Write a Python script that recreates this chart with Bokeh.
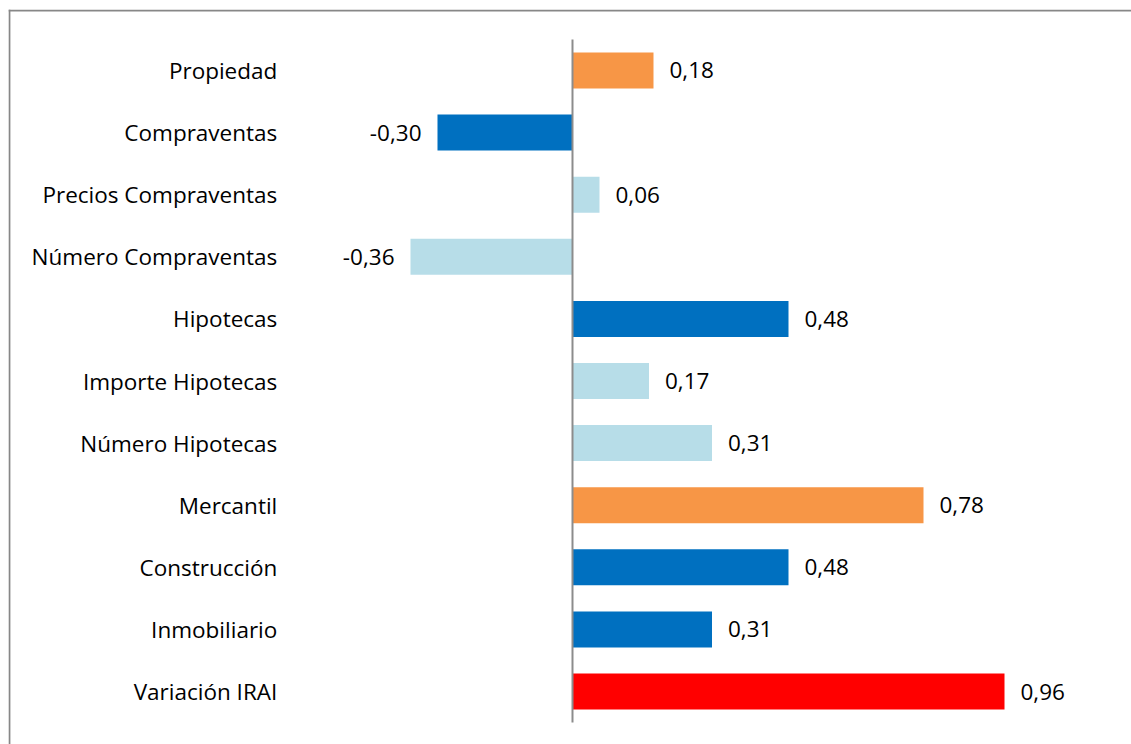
from bokeh.plotting import figure
from bokeh.models import ColumnDataSource, Range1d, Span
from bokeh.core.properties import value
from bokeh.embed import file_html
from bokeh.resources import INLINE

# Contribuciones a la variación del IRAI
categorias = [
    "Propiedad", "Compraventas", "Precios Compraventas", "Número Compraventas",
    "Hipotecas", "Importe Hipotecas", "Número Hipotecas", "Mercantil",
    "Construcción", "Inmobiliario", "Variación IRAI",
]
valores = [0.18, -0.30, 0.06, -0.36, 0.48, 0.17, 0.31, 0.78, 0.48, 0.31, 0.96]
niveles = ["sector", "componente", "detalle", "detalle", "componente", "detalle",
           "detalle", "sector", "componente", "componente", "total"]

paleta = {
    "sector": "#F79646",
    "componente": "#0070C0",
    "detalle": "#B7DDE8",
    "total": "#FF0000",
}

W, H = 1131, 744
FONT = "Open Sans"
SIZE = "22.5px"

idx = list(range(len(categorias)))
src = ColumnDataSource(dict(
    y=idx,
    v=valores,
    color=[paleta[n] for n in niveles],
    etiqueta=[f"{v:.2f}".replace(".", ",") for v in valores],
    align=["left" if v >= 0 else "right" for v in valores],
    off=[16 if v >= 0 else -16 for v in valores],
    cat=categorias,
))

x0, x1 = -1.2533, 1.2422
y_top, y_bot = -0.982, 10.853

p = figure(
    width=W, height=H,
    x_range=Range1d(x0, x1),
    y_range=Range1d(y_bot, y_top),
    output_backend="svg", toolbar_location=None,
    min_border_left=8, min_border_top=9, min_border_right=0, min_border_bottom=0,
)
p.axis.visible = False
p.grid.visible = False
p.outline_line_color = None
p.background_fill_color = "white"
p.border_fill_color = "white"

# marco exterior (borde superior e izquierdo)
p.add_layout(Span(location=x0 + 0.002, dimension="height", line_color="#878787", line_width=2))
p.add_layout(Span(location=y_top + 0.016, dimension="width", line_color="#878787", line_width=2))

# barras
p.hbar(y="y", left=0, right="v", height=0.58, color="color", line_color=None, source=src)

# eje vertical en cero
p.segment(x0=0, y0=-0.5, x1=0, y1=len(categorias) - 0.5, line_color="#8C8C8C", line_width=2)

# etiquetas de valor
p.text(x="v", y="y", text="etiqueta", text_align="align", x_offset="off",
       text_baseline="middle", text_font=value(FONT), text_font_size=SIZE,
       text_color="black", source=src)

# nombres de categoría
p.text(x=-0.656, y="y", text="cat", text_align="right", text_baseline="middle",
       text_font=value(FONT), text_font_size=SIZE, text_color="black", source=src)

open("out.html", "w").write(file_html(p, INLINE))
